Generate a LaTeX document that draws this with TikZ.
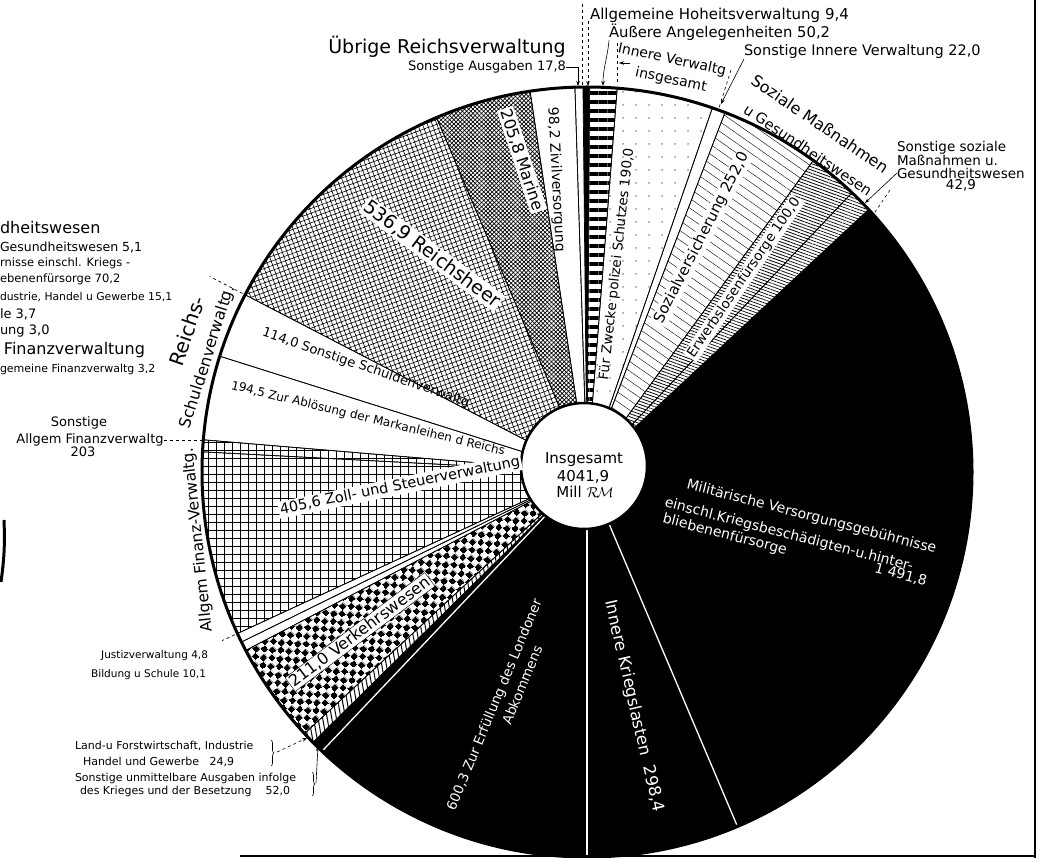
\documentclass[tikz,border=0pt]{standalone}
\usepackage{fontspec}
\setmainfont{DejaVu Sans}
\usetikzlibrary{patterns,patterns.meta,arrows.meta,decorations.pathreplacing}

\pgfdeclarepattern{
  name=checks,
  type=uncolored,
  bottom left={\pgfpoint{0pt}{0pt}},
  top right={\pgfpoint{12pt}{12pt}},
  tile size={\pgfpoint{12pt}{12pt}},
  tile transformation={\pgftransformrotate{40}},
  code={
    \pgfpathrectangle{\pgfpoint{0pt}{0pt}}{\pgfpoint{6pt}{6pt}}
    \pgfpathrectangle{\pgfpoint{6pt}{6pt}}{\pgfpoint{6pt}{6pt}}
    \pgfusepath{fill}
  }
}

\newcommand{\fz}[1]{\fontsize{#1}{#1}\selectfont}
\newcommand{\pieslice}[3]{\path[#3] (0,0) -- (#1:385) arc[start angle=#1,end angle=#2,radius=385pt] -- cycle;}

\tikzset{
  sl/.style={draw=black,line width=0.7pt},
  lbl/.style={inner sep=0pt,outer sep=0pt},
  lblw/.style={inner sep=1.5pt,outer sep=0pt,fill=white},
  lblb/.style={lblw,draw=black,line width=0.4pt},
  wtxt/.style={inner sep=0pt,outer sep=0pt,text=white},
  ldr/.style={line width=0.6pt},
  tip/.style={-{Stealth[length=5pt,width=3.5pt]}},
}

\begin{document}
\begin{tikzpicture}[x=1pt,y=1pt]
\path[use as bounding box,fill=white] (0,0) rectangle (1047,-858);

% ---------------- pie ----------------
\begin{scope}[shift={(587,-472)}]
\pieslice{-67}{43}{fill=black}
\pieslice{43}{46.5}{sl,pattern={Lines[angle=-20,distance=3pt,line width=0.7pt]}}
\pieslice{46.5}{54}{sl,pattern={Lines[angle=-20,distance=3pt,line width=0.8pt]}}
\pieslice{54}{69}{sl,pattern={Lines[angle=-35,distance=8pt,line width=0.4pt]}}
\pieslice{69}{71}{sl}
\pieslice{71}{85.5}{sl,pattern={Dots[radius=0.7pt,distance=13pt]}}
\pieslice{85.5}{89.6}{sl,pattern={Lines[angle=0,distance=9pt,line width=4pt]}}
\pieslice{89.6}{90.6}{fill=black}
\pieslice{90.6}{91.8}{sl}
\pieslice{91.8}{98.5}{sl}
\pieslice{98.5}{113}{sl,pattern={Hatch[angle=45,distance=3pt,line width=0.7pt]}}
\pieslice{113}{152.6}{sl,pattern={Hatch[angle=20,distance=4.5pt,line width=0.6pt]}}
\pieslice{152.6}{162.5}{sl}
\pieslice{162.5}{175.2}{sl}
\pieslice{175.2}{177}{sl,pattern={Hatch[angle=0,distance=8pt,line width=0.9pt]}}
\pieslice{177}{204.8}{sl,pattern={Hatch[angle=0,distance=8pt,line width=0.9pt]}}
\pieslice{204.8}{206.2}{sl}
\pieslice{206.2}{207.6}{sl}
\pieslice{207.6}{222.8}{sl,pattern=checks}
\pieslice{222.8}{224.6}{sl,pattern={Lines[angle=100,distance=4.5pt,line width=1pt]}}
\pieslice{224.6}{226.5}{fill=black}
\pieslice{226.5}{270}{fill=black}
\pieslice{270}{293}{fill=black}
\foreach \a in {226.5,270,293} \draw[white,line width=1.3pt] (0,0) -- (\a:383);
\draw[line width=3pt] (0,0) circle[radius=385pt];
\draw[fill=white,line width=2.5pt] (-3,6) circle[radius=63pt];
% group ticks
\draw[dashed,line width=0.7pt] (152.6:388) -- (152.6:425);
\draw[dashed,line width=0.7pt] (204.8:388) -- (204.8:402);
\end{scope}

% ---------------- centre ----------------
\node[lbl,font=\fz{15}] (ins1) at (584,-460) {Insgesamt};
\node[lbl,font=\fz{15}] (ins2) at (583,-477) {4041,9};
\node[lbl,font=\fz{15}] (ins3) at (585,-492) {Mill $\mathcal{R\!M}$};

% ---------------- top labels ----------------
\node[lbl,font=\fz{19}] (ueb) at (447,-47) {Übrige Reichsverwaltung};
\node[lbl,font=\fz{13}] (sa) at (487,-67) {Sonstige Ausgaben 17,8};
\node[lbl,font=\fz{15},anchor=west] (ah) at (590,-15) {Allgemeine Hoheitsverwaltung 9,4};
\node[lbl,font=\fz{14.8},anchor=west] (ae) at (609,-32) {Äußere Angelegenheiten 50,2};
\node[lbl,font=\fz{14.5},anchor=west] (si) at (744,-52) {Sonstige Innere Verwaltung 22,0};
\node[lbl,font=\fz{14},rotate=-12] (iv1) at (672,-60) {Innere Verwaltg};
\node[lbl,font=\fz{14},rotate=-12] (iv2) at (671,-80) {insgesamt};
\node[lbl,font=\fz{16},rotate=-34] (sm1) at (820,-124) {Soziale Maßnahmen};
\node[lbl,font=\fz{14.5},rotate=-34] (sm2) at (808,-150) {u Gesundheitswesen};
\node[lbl,font=\fz{13.5},anchor=west] (ss1) at (897,-148) {Sonstige soziale};
\node[lbl,font=\fz{13.5},anchor=west] (ss2) at (897,-160.5) {Maßnahmen u.};
\node[lbl,font=\fz{13.5},anchor=west] (ss3) at (897,-173) {Gesundheitswesen};
\node[lbl,font=\fz{13.5}] (ss4) at (961,-185.5) {42,9};

\coordinate (sa-t) at (578,-86);
\draw[ldr,tip] (sa.east) -| (sa-t);
\coordinate (ub-a) at (582,-4);
\coordinate (ub-b) at (582,-85);
\draw[ldr,dashed] (ub-a) -- (ub-b);
\coordinate (ah-t) at (588,-86);
\coordinate (ah-s) at (588,-21);
\draw[ldr,dashed,tip] (ah-s) -- (ah-t);
\coordinate (ae-t) at (603,-86);
\draw[ldr,tip] (ae.south west) to[out=-95,in=90] (ae-t);
\coordinate (iv-a) at (617,-43);
\coordinate (iv-b) at (617,-85);
\draw[ldr,dashed] (iv-a) -- (iv-b);
\coordinate (iv-c) at (630,-63);
\coordinate (iv-d) at (619,-63);
\draw[ldr,tip] (iv-c) -- (iv-d);
\coordinate (iv-e) at (731,-70);
\coordinate (iv-f) at (719,-108);
\draw[ldr,dashed] (iv-e) -- (iv-f);
\coordinate (si-t) at (721,-104);
\draw[ldr,tip] (si.south west) -- (si-t);
\coordinate (ss-t) at (865,-203);
\draw[ldr,tip] (ss3.west) -- (ss-t);
\coordinate (sz-a) at (890,-190);
\coordinate (sz-b) at (871,-218);
\draw[ldr,dashed] (sz-a) -- (sz-b);

% ---------------- slice labels ----------------
\node[wtxt,font=\fz{14},rotate=-14.5,anchor=west] (mv1) at (687,-485) {Militärische Versorgungsgebührnisse};
\node[wtxt,font=\fz{14},rotate=-14.5,anchor=west] (mv2) at (665,-503) {einschl.Kriegsbeschädigten-u.hinter-};
\node[wtxt,font=\fz{14},rotate=-14.5,anchor=west] (mv3) at (663,-519) {bliebenenfürsorge};
\node[wtxt,font=\fz{14},rotate=-14.5,anchor=west] (mv4) at (875,-568) {1 491,8};
\node[wtxt,font=\fz{16.5},rotate=-77] (ik) at (634,-706) {Innere Kriegslasten\ \ 298,4};
\node[wtxt,font=\fz{13.5},rotate=67.4] (lo1) at (495,-705) {600,3 Zur Erfüllung des Londoner};
\node[wtxt,font=\fz{13.5},rotate=67.4] (lo2) at (522,-685) {Abkommens};
\node[lblb,font=\fz{16},rotate=37] (vk) at (360,-632) {211,0 Verkehrswesen};
\node[lblw,font=\fz{14.5},rotate=11.4] (zs) at (400,-486) {405,6 Zoll- und Steuerverwaltung};
\node[lbl,font=\fz{12},rotate=-13.6] (ma) at (368,-419) {194,5 Zur Ablösung der Markanleihen d Reichs};
\node[lbl,font=\fz{13},rotate=-19] (sv) at (366,-368) {114,0 Sonstige Schuldenverwaltg};
\node[lblw,font=\fz{19},rotate=-36.7] (rh) at (432,-254) {536,9 Reichsheer};
\node[lblw,font=\fz{16},rotate=-71.7] (mr) at (522,-160) {205,8 Marine};
\node[lbl,font=\fz{14},rotate=-87] (zv) at (556,-180) {98,2 Zivilversorgung};
\node[lbl,font=\fz{13.5},rotate=83.8] (po) at (617,-264) {Für Zwecke polizei Schutzes 190,0};
\node[lblw,font=\fz{15},rotate=62.8] (sz) at (702,-238) {Sozialversicherung 252,0};
\node[lblw,font=\fz{13.5},rotate=55.8] (ew) at (744,-278) {Erwerbslosenfürsorge 100,0};

% ---------------- left labels ----------------
\node[lbl,font=\fz{20},rotate=71] (rs1) at (187,-331) {Reichs-};
\node[lbl,font=\fz{16},rotate=72.5] (rs2) at (208,-357) {Schuldenverwaltg.};
\node[lbl,font=\fz{15.5},rotate=96] (af) at (198,-540) {Allgem Finanz-Verwaltg.};
\node[lbl,font=\fz{13}] (fa1) at (79,-423) {Sonstige};
\node[lbl,font=\fz{13}] (fa2) at (90,-440) {Allgem Finanzverwaltg};
\node[lbl,font=\fz{13}] (fa3) at (83,-452) {203};
\coordinate (fa-t) at (203,-440);
\draw[ldr,dashed] (fa2.east) -- (fa-t);
\node[lbl,font=\fz{10.5},anchor=east] (ju) at (208,-656) {Justizverwaltung 4,8};
\node[lbl,font=\fz{10.5},anchor=east] (bi) at (206,-675) {Bildung u Schule 10,1};

\node[lbl,font=\fz{11},anchor=west] (lf1) at (75,-746) {Land-u Forstwirtschaft, Industrie};
\node[lbl,font=\fz{11},anchor=west] (lf2) at (83,-762) {Handel und Gewerbe\ \ \ 24,9};
\node[lbl,font=\fz{11},anchor=west] (lf3) at (75,-778) {Sonstige unmittelbare Ausgaben infolge};
\node[lbl,font=\fz{11},anchor=west] (lf4) at (80,-791) {des Krieges und der Besetzung\ \ \ \ 52,0};
\coordinate (br1a) at (271,-740);
\coordinate (br1b) at (271,-766);
\draw[ldr,decorate,decoration={brace,amplitude=3pt}] (br1a) -- (br1b);
\coordinate (br1c) at (277,-752);
\coordinate (lf-t1) at (307,-738);
\draw[ldr,dashed,tip] (br1c) -- (lf-t1);
\coordinate (br2a) at (312,-772);
\coordinate (br2b) at (312,-796);
\draw[ldr,decorate,decoration={brace,amplitude=3pt}] (br2a) -- (br2b);
\coordinate (br2c) at (316,-783);
\coordinate (lf-t2) at (318,-746);
\draw[ldr,tip] (br2c) -- (lf-t2);

% ---------------- cut-off legend at the left ----------------
\node[lbl,font=\fz{16},anchor=west] (lg1) at (0,-228) {dheitswesen};
\node[lbl,font=\fz{12.5},anchor=west] (lg2) at (0,-247) {Gesundheitswesen 5,1};
\node[lbl,font=\fz{11.5},anchor=west] (lg3) at (0,-263) {rnisse einschl. Kriegs -};
\node[lbl,font=\fz{11.5},anchor=west] (lg4) at (0,-279) {ebenenfürsorge 70,2};
\node[lbl,font=\fz{10.8},anchor=west] (lg5) at (0,-297) {dustrie, Handel u Gewerbe 15,1};
\node[lbl,font=\fz{13},anchor=west] (lg6) at (0,-314) {le 3,7};
\node[lbl,font=\fz{13},anchor=west] (lg7) at (0,-331) {ung 3,0};
\node[lbl,font=\fz{16},anchor=west] (lg8) at (4,-350) {Finanzverwaltung};
\node[lbl,font=\fz{11},anchor=west] (lg9) at (0,-369) {gemeine Finanzverwaltg 3,2};

% ---------------- frame remnants ----------------
\draw[line width=2.5pt] (1035,0) -- (1035,-858);
\draw[line width=1.2pt] (240,-856) -- (1035,-856);
\draw[line width=3pt] (4,-520) to[bend left=5] (1,-582);
\end{tikzpicture}
\end{document}
